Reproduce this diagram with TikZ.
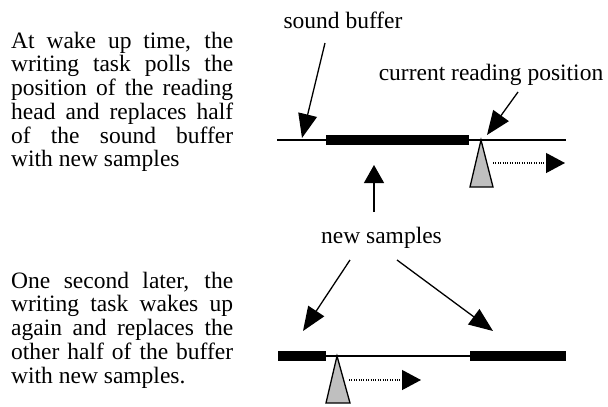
\documentclass[tikz,border=0pt]{standalone}
\usepackage{fontspec}
\setmainfont{Liberation Serif}
\usetikzlibrary{arrows.meta}
\tikzset{ %inner sep = 0pt,
  {note/.style} ={font=\fontsize{23.5}{23.75}\selectfont, inner sep=0},
  {story/.style} ={note, text width=222pt, align=justify, anchor=base west},
  {label/.style} ={note, anchor=base},
  {pointer/.style} ={draw, line width=1.3pt, -{Triangle[length=24pt,width=19pt]}},
  {motion/.style} ={draw, line width=1.2pt, dash pattern=on 1pt off 1.4pt,
                    -{Triangle[length=19pt,width=20pt]}},
  {tape/.style} ={draw, line width=1.3pt},
  {chunk/.style} ={fill=black},
  {readhead/.style} ={draw, line width=1.3pt, fill=black!25, line join=miter},
}

\begin{document}
\begin{tikzpicture}[x=1pt,y=-1pt]
\useasboundingbox (0,0) rectangle (608,407);
\node[story] (wake) at (11,48) {At wake up time, the\linebreak
  writing task polls the\linebreak position of the reading\linebreak
  head and replaces half\linebreak of the sound buffer\linebreak
  with new samples};
\node[story] (later) at (11,288) {One second later, the\linebreak
  writing task wakes up\linebreak again and replaces the\linebreak
  other half of the buffer\linebreak with new samples.};
\node[label] (sbuf) at (343,28) {sound buffer};
\node[label] (crp) at (491,80) {current reading position};
\node[label] (newsamp) at (381.5,243) {new samples};
% upper buffer
\path[tape] (277,140) -- (566,140);
\path[chunk] (326,135) rectangle (469,145);
\path[readhead] (481,140) -- (493,187) -- (470,187) -- cycle;
% lower buffer
\path[tape] (278,356) -- (566,356);
\path[chunk] (278,351) rectangle (326,361);
\path[chunk] (470,351) rectangle (566,361);
\path[readhead] (337,356) -- (350,403) -- (326,403) -- cycle;
\coordinate (sbtail) at (325,43);
\coordinate (sbtip) at (302,138);
\coordinate (crptail) at (518,92);
\coordinate (crptip) at (487,135);
\coordinate (upfoot) at (374,212);
\coordinate (uptip) at (374,165);
\coordinate (lefttail) at (350,260);
\coordinate (lefttip) at (303,331);
\coordinate (righttail) at (397,260);
\coordinate (righttip) at (493,331);
\coordinate (go1) at (493,163);
\coordinate (go1end) at (565,163);
\coordinate (go2) at (349,380);
\coordinate (go2end) at (421,380);
\path[pointer] (sbtail) -- (sbtip);
\path[pointer] (crptail) -- (crptip);
\path[draw, line width=1.3pt, -{Triangle[length=18pt,width=20pt]}] (upfoot) -- (uptip);
\path[pointer] (lefttail) -- (lefttip);
\path[pointer] (righttail) -- (righttip);
\path[motion] (go1) -- (go1end);
\path[motion] (go2) -- (go2end);
\end{tikzpicture}
\end{document}
